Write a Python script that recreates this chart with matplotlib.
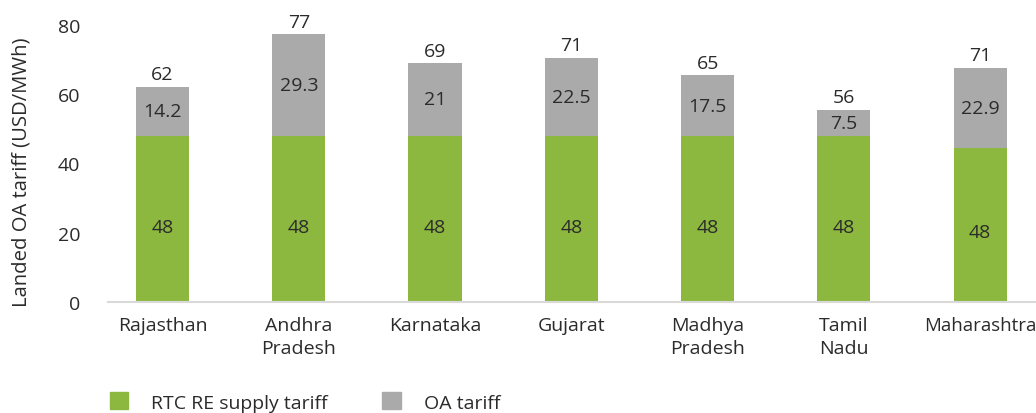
import matplotlib
matplotlib.use("Agg")
import matplotlib.pyplot as plt
from matplotlib.patches import Patch

states = ["Rajasthan", "Andhra\nPradesh", "Karnataka", "Gujarat", "Madhya\nPradesh", "Tamil\nNadu", "Maharashtra"]
# bar heights as drawn
re_supply = [48, 48, 48, 48, 48, 48, 44.6]
oa_tariff = [14.2, 29.3, 21, 22.5, 17.5, 7.5, 23.0]
# labels as printed
re_labels = ["48", "48", "48", "48", "48", "48", "48"]
oa_labels = ["14.2", "29.3", "21", "22.5", "17.5", "7.5", "22.9"]
total_labels = ["62", "77", "69", "71", "65", "56", "71"]

GREEN = "#8DB83F"
GRAY = "#A9AAA9"
TXT = "#2b2b2b"

plt.rcParams["font.family"] = ["Open Sans", "DejaVu Sans"]

W, H = 1036, 414
fig = plt.figure(figsize=(W / 100, H / 100), dpi=100)
ax = fig.add_axes([108 / W, (H - 303) / H, (1036 - 108) / W, 277 / H])

x = list(range(len(states)))
bw = 0.39
ax.bar(x, re_supply, width=bw, color=GREEN, zorder=2)
ax.bar(x, oa_tariff, width=bw, bottom=re_supply, color=GRAY, zorder=2)

FS = 14
for i in x:
    g, o = re_supply[i], oa_tariff[i]
    ax.text(i, g / 2 - 2.2, re_labels[i], ha="center", va="center", fontsize=FS, color=TXT)
    ax.text(i, g + o / 2, oa_labels[i], ha="center", va="center", fontsize=FS, color=TXT)
    ax.text(i, g + o + 1.0, total_labels[i], ha="center", va="bottom", fontsize=FS, color=TXT, clip_on=False)

ax.set_xlim(-0.40, 6.41)
ax.set_ylim(0, 80)
ax.set_yticks([0, 20, 40, 60, 80])
ax.set_xticks(x)
ax.set_xticklabels(states, fontsize=FS, color=TXT, linespacing=1.4)
ax.get_xticklabels()[-1].set_fontsize(13.4)
ax.tick_params(axis="y", length=0, pad=20, labelsize=FS, labelcolor=TXT)
ax.tick_params(axis="x", length=0, pad=10)
for s in ["top", "right", "left"]:
    ax.spines[s].set_visible(False)
ax.spines["bottom"].set_color("#d9d9d9")
ax.spines["bottom"].set_linewidth(1.5)
ax.set_ylabel("Landed OA tariff (USD/MWh)", fontsize=14.6, color=TXT)
ax.yaxis.set_label_coords(-(108 - 32) / 928, 0.473)

handles = [Patch(color=GREEN, label="RTC RE supply tariff"), Patch(color=GRAY, label="OA tariff")]
fig.legend(handles=handles, loc="center left", bbox_to_anchor=(92 / W, 1 - 403 / H), ncol=2,
           frameon=False, fontsize=FS, handlelength=0.95, handleheight=0.95,
           handletextpad=1.2, columnspacing=2.8, labelcolor=TXT)

fig.savefig("out.png", dpi=100)
